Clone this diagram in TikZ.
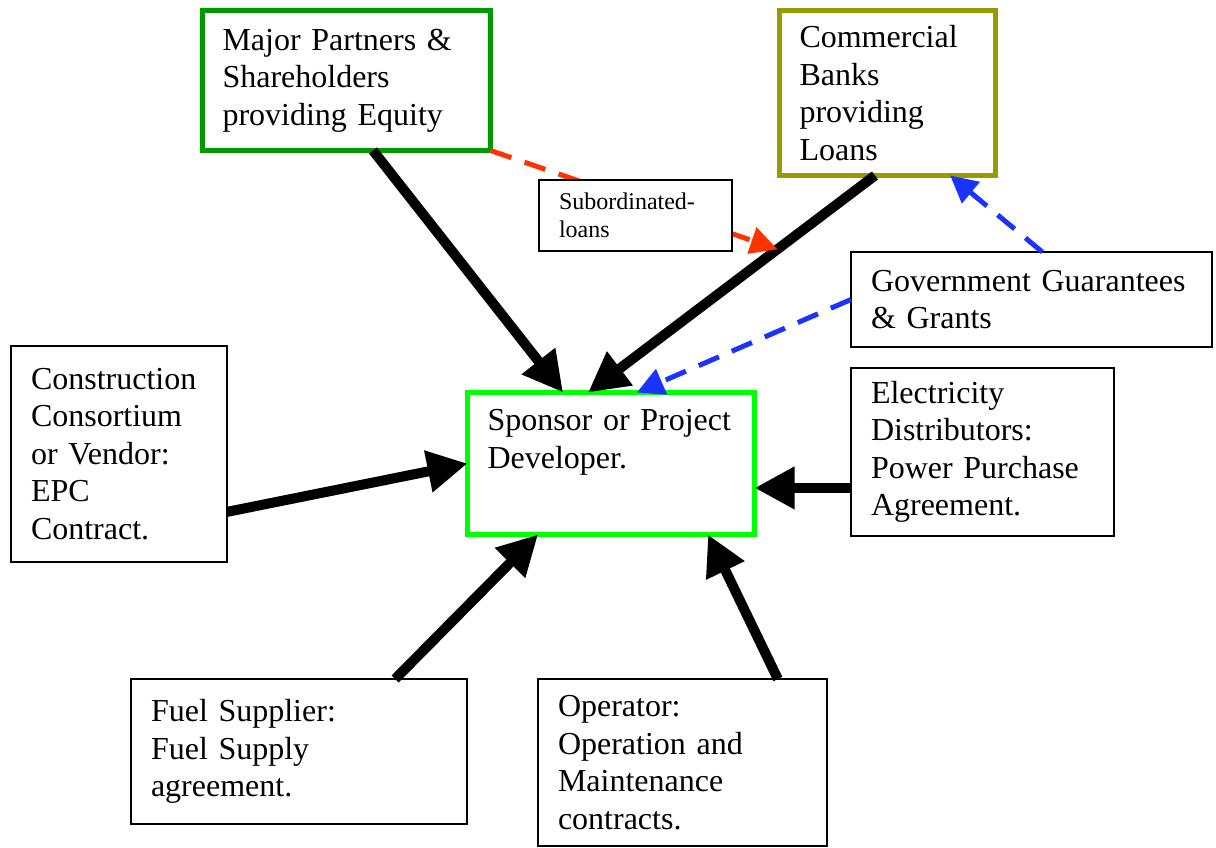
\documentclass[tikz,border=0pt]{standalone}
\usepackage{fontspec}
\setmainfont{Liberation Serif}
\usepackage{tikz}
\usetikzlibrary{arrows.meta, calc}
\usepackage{xcolor}
\definecolor{equitygreen}{RGB}{0,153,0}
\definecolor{bankolive}{RGB}{153,153,0}
\definecolor{sponsorgreen}{RGB}{0,255,0}
\definecolor{loanred}{RGB}{255,51,0}
\definecolor{grantblue}{RGB}{26,51,255}

\begin{document}
\begin{tikzpicture}[x=1pt, y=-1pt,
        box/.style={draw, fill=white, line width=1.5pt, anchor=north west, outer sep=0pt,
            inner xsep=20pt, inner ysep=0pt, align=left, font=\fontsize{32pt}{37.5pt}\selectfont},
        feed/.style={line width=10pt, -{Triangle[length=40pt, width=40pt]}},
        loan/.style={line width=5pt, dash pattern=on 22pt off 14pt, -{Triangle[length=27pt, width=27pt]}}]
        \useasboundingbox (0, 0) rectangle (1216, 848);
        % Boxes
        \node [box, draw=equitygreen, line width=5pt, minimum width=288pt, minimum height=140pt, text width=248pt]
            (major) at (202.5, 10.5) {Major Partners \&\\ Shareholders\\ providing Equity};
        \node [box, draw=bankolive, line width=5pt, minimum width=216pt, minimum height=165pt, text width=176pt]
            (banks) at (779.5, 10.5) {Commercial\\ Banks\\ providing\\ Loans};
        \node [box, minimum width=361pt, minimum height=95pt, text width=321pt]
            (gov) at (851, 252) {Government Guarantees\\ \& Grants};
        \node [box, draw=sponsorgreen, line width=5pt, minimum width=287pt, minimum height=142pt, text width=247pt]
            (sponsor) at (467.5, 392.5) {Sponsor or Project\\ Developer.\\ \strut};
        \node [box, minimum width=216pt, minimum height=216pt, text width=176pt]
            (cons) at (11, 346) {Construction\\ Consortium\\ or Vendor:\\ EPC\\ Contract.};
        \node [box, minimum width=263pt, minimum height=168pt, text width=223pt]
            (elec) at (851, 368) {Electricity\\ Distributors:\\ Power Purchase\\ Agreement.};
        \node [box, minimum width=336pt, minimum height=145pt, text width=296pt]
            (fuel) at (131, 679) {Fuel Supplier:\\ Fuel Supply\\ agreement.};
        \node [box, minimum width=289pt, minimum height=167pt, text width=249pt]
            (oper) at (538, 679) {Operator:\\ Operation and\\ Maintenance\\ contracts.};
        % Thick arrows into the sponsor
        \draw [feed] ($(major.south west)!0.592!(major.south east)$) -- ($(sponsor.north west)!0.333!(sponsor.north east)$);
        \draw [feed] ($(banks.south west)!0.442!(banks.south east)$) -- coordinate [pos=0.34] (subend)
            ($(sponsor.north west)!0.42!(sponsor.north east)$);
        \draw [feed] ($(cons.north east)!0.768!(cons.south east)$) -- (sponsor.west);
        \coordinate (ppa) at ($(elec.north west)!0.714!(elec.south west)$);
        \draw [feed] (ppa) -- (sponsor.east |- ppa);
        \draw [feed] ($(fuel.north west)!0.786!(fuel.north east)$) -- ($(sponsor.south west)!0.246!(sponsor.south east)$);
        \draw [feed] ($(oper.north west)!0.83!(oper.north east)$) -- ($(sponsor.south west)!0.838!(sponsor.south east)$);
        % Dashed arrows
        \draw [loan, loanred] (major.south east) -- (subend);
        \draw [loan, grantblue] ($(gov.north west)!0.53!(gov.north east)$) -- ($(banks.south west)!0.79!(banks.south east)$);
        \draw [loan, grantblue] (gov.west) -- ($(sponsor.north west)!0.59!(sponsor.north east)$);
        % Label sits on top of the red line
        \node [box, minimum width=193pt, minimum height=71pt, text width=153pt, font=\fontsize{24pt}{28pt}\selectfont]
            (sub) at (539, 180) {Subordinated-\\ loans};
\end{tikzpicture}
\end{document}
